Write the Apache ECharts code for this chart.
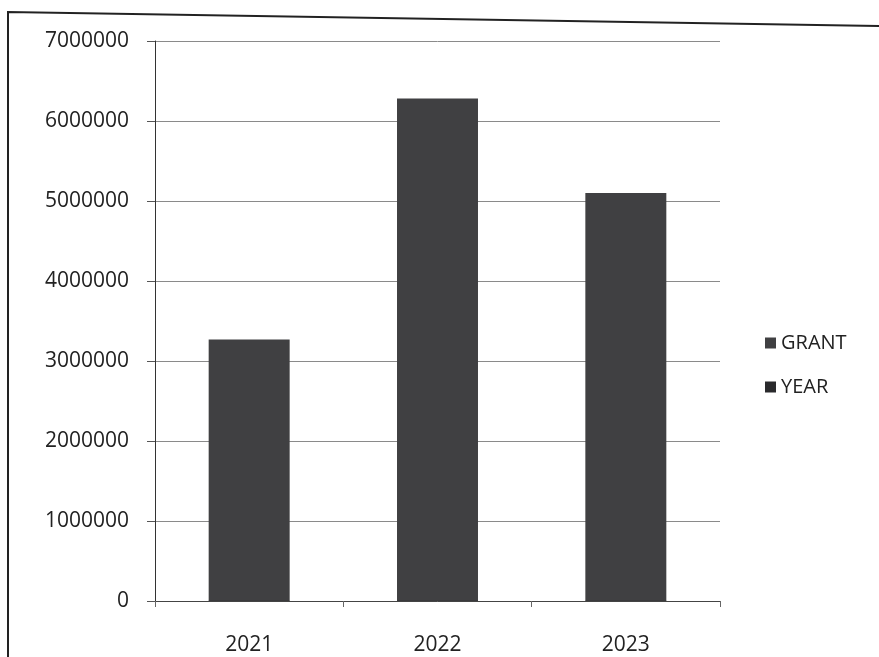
<!DOCTYPE html>
<html>
<head>
<meta charset="utf-8">
<script src="https://cdn.jsdelivr.net/npm/echarts@6/dist/echarts.min.js"></script>
<style>
  html, body { margin: 0; padding: 0; background: #fff; }
  #chart { width: 879px; height: 657px; }
</style>
</head>
<body>
<div id="chart"></div>
<script>
// categories and values
const years = ["2021", "2022", "2023"];
const grant = [3270000, 6280000, 5100000];
const yearValues = [2021, 2022, 2023];

const chart = echarts.init(document.getElementById("chart"));
const option = {
  backgroundColor: "#ffffff",
  textStyle: { fontFamily: "Open Sans", color: "#222" },
  graphic: [
    {
      type: "polyline",
      shape: { points: [[8, 657], [8, 12], [879, 26]] },
      style: { stroke: "#222", lineWidth: 2, fill: null },
    },
  ],
  legend: {
    orient: "vertical",
    left: 760,
    top: 328,
    itemGap: 24,
    itemWidth: 11,
    itemHeight: 11,
    icon: "rect",
    textStyle: { fontSize: 20, color: "#222", fontFamily: "Open Sans" },
    data: ["GRANT", "YEAR"],
  },
  grid: {
    left: 155,
    right: 159,
    top: 41,
    bottom: 56,
  },
  xAxis: {
    type: "category",
    data: years,
    axisLine: { lineStyle: { color: "#444", width: 1 } },
    axisTick: { show: true, length: 6, lineStyle: { color: "#666" } },
    axisLabel: { fontSize: 21, color: "#222", margin: 34 },
  },
  yAxis: {
    type: "value",
    min: 0,
    max: 7000000,
    interval: 1000000,
    axisLine: { show: true, lineStyle: { color: "#333", width: 1 } },
    axisTick: { show: true, length: 8, lineStyle: { color: "#555" } },
    axisLabel: {
      fontSize: 21,
      color: "#222",
      margin: 26,
      formatter: (v) => String(v),
    },
    splitLine: { lineStyle: { color: "#8a8a8a", width: 1 } },
  },
  series: [
    {
      name: "GRANT",
      type: "bar",
      barWidth: "43%",
      barGap: "-100%",
      data: grant,
      itemStyle: { color: "#404042" },
    },
    {
      name: "YEAR",
      type: "bar",
      barWidth: "43%",
      data: yearValues,
      itemStyle: { color: "#2a2a2c" },
    },
  ],
};
chart.setOption(option);
</script>
</body>
</html>
